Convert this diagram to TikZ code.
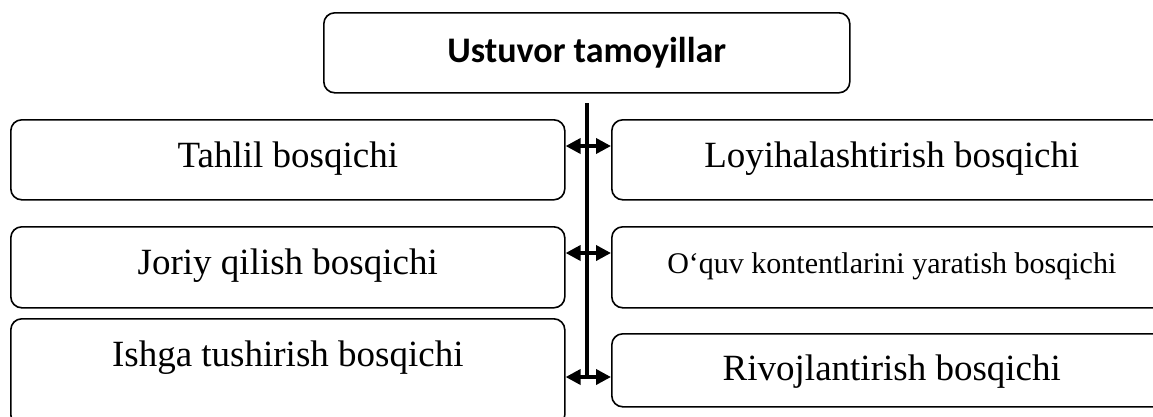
\documentclass[tikz,border=0pt]{standalone}
\usepackage{fontspec}
\setmainfont{Liberation Serif}
\newfontfamily\headfont{Carlito}
\usepackage{tikz}
\usetikzlibrary{arrows.meta,positioning,calc}

\begin{document}
\begin{tikzpicture}[x=1pt, y=-1pt,
    stage/.style={draw, rounded corners=11pt, line width=1.6pt, inner sep=0pt,
      anchor=north west, font=\fontsize{37}{40}\selectfont},
    spine/.style={line width=3.8pt},
    twoway/.style={line width=3.6pt,
      {Triangle[length=15pt,width=15pt]}-{Triangle[length=15pt,width=15pt]}}]
  \useasboundingbox (0,0) rectangle (1153,416);
  \clip (0,0) rectangle (1153,416);
  \node[stage, minimum width=526pt, text height=50pt, text depth=30pt,
    font=\headfont\fontsize{36}{38}\selectfont\bfseries] (head) at (323,12) {Ustuvor tamoyillar};
  \node[stage, minimum width=554pt, text height=48pt, text depth=32pt] (tahlil) at (10,119) {Tahlil bosqichi};
  \node[stage, minimum width=554pt, text height=48pt, text depth=33pt] (joriy) at (10,226) {Joriy qilish bosqichi};
  \node[stage, minimum width=554pt, text height=48pt, text depth=59pt] (ishga) at (10,318) {Ishga tushirish bosqichi};
  \node[stage, minimum width=560pt, text height=48pt, text depth=32pt] (loyiha) at (611,119) {Loyihalashtirish bosqichi};
  \node[stage, minimum width=560pt, text height=47pt, text depth=34pt,
    font=\fontsize{30}{33}\selectfont] (oquv) at (611,226) {O‘quv kontentlarini yaratish bosqichi};
  \node[stage, minimum width=560pt, text height=47pt, text depth=26pt] (rivoj) at (611,333) {Rivojlantirish bosqichi};
  \coordinate (top) at (587,103);
  \coordinate (a1) at (587,146);
  \coordinate (a2) at (587,253);
  \coordinate (a3) at (587,377);
  \draw[spine] (top) -- (a3);
  \draw[twoway] (tahlil.east |- a1) -- (loyiha.west |- a1);
  \draw[twoway] (joriy.east |- a2) -- (oquv.west |- a2);
  \draw[twoway] (ishga.east |- a3) -- (rivoj.west |- a3);
\end{tikzpicture}
\end{document}
